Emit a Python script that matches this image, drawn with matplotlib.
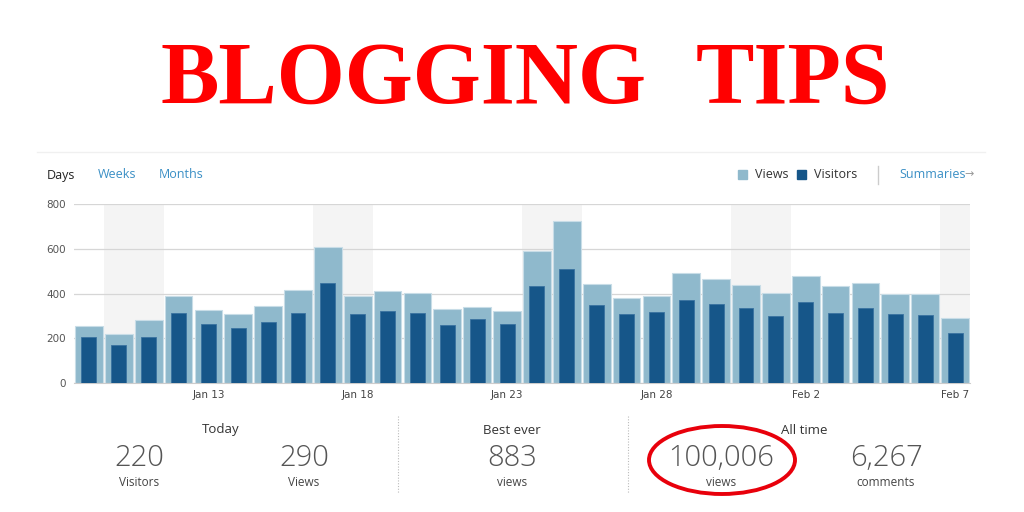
import matplotlib
matplotlib.use("Agg")
import matplotlib.pyplot as plt
from matplotlib.patches import Ellipse, Rectangle
import pandas as pd

# daily stats, Jan 9 - Feb 7
days = pd.date_range("2015-01-09", "2015-02-07", freq="D")
views = [256, 217, 281, 387, 327, 309, 346, 416, 610, 387, 413, 401, 332, 340, 321,
         589, 723, 442, 378, 390, 491, 465, 437, 401, 480, 434, 446, 396, 396, 291]
visitors = [205, 170, 205, 311, 263, 247, 271, 315, 449, 308, 321, 314, 257, 287, 265,
            434, 511, 348, 309, 317, 372, 352, 335, 299, 363, 311, 335, 309, 305, 223]
tick_days = ["Jan 13", "Jan 18", "Jan 23", "Jan 28", "Feb 2", "Feb 7"]
yticks = [0, 200, 400, 600, 800]

LIGHT = "#8fb9cc"
DARK = "#165689"
BLUE = "#3a8fc5"
W, H = 1024, 512

def fx(px):
    return px / W

def fy(py):
    return 1 - py / H

plt.rcParams["font.family"] = ["Open Sans", "DejaVu Sans"]
fig = plt.figure(figsize=(10.24, 5.12), dpi=100)

# big red title
fig.text(fx(160), fy(103), "BLOGGING", fontsize=63, fontweight="bold", color="#ff0000",
         family=["Liberation Serif"], ha="left", va="baseline")
fig.text(fx(890), fy(103), "TIPS", fontsize=63, fontweight="bold", color="#ff0000",
         family=["Liberation Serif"], ha="right", va="baseline")

# header strip
fig.add_artist(plt.Line2D([fx(37), fx(985)], [fy(152), fy(152)], color="#f0f0f0", lw=1))
fig.text(fx(47), fy(175), "Days", fontsize=9, color="#222", va="center")
fig.text(fx(98), fy(175), "Weeks", fontsize=9, color=BLUE, va="center")
fig.text(fx(159), fy(175), "Months", fontsize=9, color=BLUE, va="center")
fig.add_artist(Rectangle((fx(738), fy(179)), fx(9), 9 / H, color=LIGHT))
fig.text(fx(755), fy(175), "Views", fontsize=9, color="#333", va="center")
fig.add_artist(Rectangle((fx(797), fy(179)), fx(9), 9 / H, color=DARK))
fig.text(fx(814), fy(175), "Visitors", fontsize=9, color="#333", va="center")
fig.add_artist(plt.Line2D([fx(878), fx(878)], [fy(166), fy(184)], color="#ccc", lw=1))
fig.text(fx(899), fy(175), "Summaries", fontsize=9, color=BLUE, va="center")
fig.text(fx(964), fy(174), "→", fontsize=8, color="#999", va="center",
         family=["DejaVu Sans"])

# chart
ax = fig.add_axes([fx(74), fy(383), fx(970 - 74), (383 - 204) / H])
x = range(len(days))
for i, d in enumerate(days):
    if d.weekday() >= 5:
        ax.axvspan(i - 0.5, i + 0.5, color="#f4f4f4", lw=0, zorder=0)
ax.bar(x, views, width=0.93, color=LIGHT, edgecolor="#c8dde7", linewidth=0.8, zorder=2)
ax.bar(x, visitors, width=0.5, color=DARK, edgecolor="#3a72a0", linewidth=0.6, zorder=3)
ax.set_xlim(-0.5, len(days) - 0.5)
ax.set_ylim(0, 800)
ax.set_yticks(yticks)
ax.set_yticklabels([str(v) for v in yticks], fontsize=7.5, color="#555",
                   family=["DejaVu Sans"])
ax.yaxis.grid(True, color="#d6d6d6", lw=0.9, zorder=1)
ax.set_axisbelow(True)
labels = [d.strftime("%b ") + str(d.day) for d in days]
pos = [labels.index(t) for t in tick_days]
ax.set_xticks(pos)
ax.set_xticklabels(tick_days, fontsize=7.5, color="#444", family=["DejaVu Sans"])
ax.tick_params(length=0, pad=6)
ax.tick_params(axis="x", pad=5)
for s in ["top", "right", "left"]:
    ax.spines[s].set_visible(False)
ax.spines["bottom"].set_color("#ccc")
ax.set_facecolor("none")

# summary numbers
def stat(px, title=None, num=None, label=None):
    if title:
        fig.text(fx(px), fy(430), title, fontsize=9.5, color="#333", ha="center", va="center")
    if num:
        fig.text(fx(px), fy(458), num, fontsize=21, color="#555", ha="center", va="center",
                 fontweight="light")
        fig.text(fx(px), fy(483), label, fontsize=8.5, color="#444", ha="center", va="center")

stat(221, title="Today")
stat(139, num="220", label="Visitors")
stat(304, num="290", label="Views")
stat(512, title="Best ever", num="883", label="views")
stat(804, title="All time")
stat(721, num="100,006", label="views")
stat(886, num="6,267", label="comments")
for px in [398, 628]:
    fig.add_artist(plt.Line2D([fx(px), fx(px)], [fy(416), fy(493)], color="#bbb",
                              lw=0.8, ls=(0, (1, 1.5))))
fig.add_artist(Ellipse((fx(722), fy(460)), 146 / W, 68 / H, fill=False,
                       edgecolor="#e8000b", lw=2.8))

fig.savefig("out.png", dpi=100, facecolor="white")
